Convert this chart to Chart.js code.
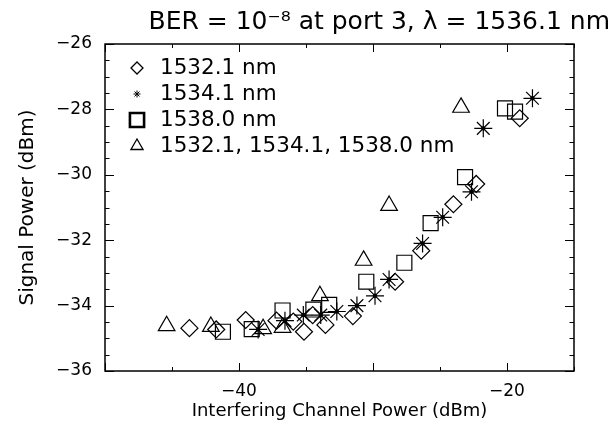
<!DOCTYPE html>
<html>
<head>
<meta charset="utf-8">
<script src="https://cdn.jsdelivr.net/npm/chart.js@4.4.1/dist/chart.umd.min.js"></script>
<style>
body{margin:0;background:#fff}
</style>
</head>
<body>
<canvas id="berChart" width="610" height="427"></canvas>
<script>
// values (dBm)
const diamondX=[-43.7,-41.7,-39.5,-37.2,-35.95,-35.15,-34.5,-33.55,-31.5,-28.35,-26.4,-24.0,-22.3,-19.05];
const diamondY=[-34.69,-34.73,-34.44,-34.46,-34.49,-34.8,-34.29,-34.59,-34.32,-33.27,-32.32,-30.9,-30.28,-28.27];

const starX=[-38.57,-36.57,-35.2,-33.9,-32.7,-31.2,-29.85,-28.8,-26.3,-24.8,-22.65,-21.77,-18.1];
const starY=[-34.73,-34.46,-34.29,-34.29,-34.18,-34.0,-33.7,-33.2,-32.1,-31.3,-30.52,-28.58,-27.66];

const squareX=[-41.2,-39.05,-36.75,-34.45,-33.27,-30.5,-27.66,-25.7,-23.13,-20.15,-19.4];
const squareY=[-34.8,-34.72,-34.15,-34.12,-33.98,-33.27,-32.69,-31.48,-30.07,-27.97,-28.07];

const triX=[-45.4,-42.1,-38.2,-36.75,-33.96,-30.7,-28.8,-23.43];
const triY=[-34.62,-34.64,-34.71,-34.67,-33.7,-32.62,-30.94,-27.94];

const seriesLabels=["1532.1 nm","1534.1 nm","1538.0 nm","1532.1, 1534.1, 1538.0 nm"];
const xLabelled=[-40,-20];
const yTickValues=[-36,-34,-32,-30,-28,-26];

const FONT="'DejaVu Sans', sans-serif";
const toPoints=(xs,ys)=>xs.map((x,i)=>({x:x,y:ys[i]}));
const minus=v=>(v<0?"\u2212":"")+Math.abs(v);

// box around the plot with inward ticks on all sides
const frameTicks={
    id:"frameTicks",
    afterDraw(chart){
        const {ctx,chartArea:a,scales:{x,y}}=chart;
        ctx.save();
        ctx.strokeStyle="#000";
        ctx.lineWidth=1.5;
        ctx.strokeRect(a.left,a.top,a.right-a.left,a.bottom-a.top);
        ctx.lineWidth=1;
        ctx.beginPath();
        for(let v=x.min;v<=x.max;v+=5){
            const px=Math.round(x.getPixelForValue(v))+0.5;
            const len=v%10===0?8:4;
            ctx.moveTo(px,a.bottom);ctx.lineTo(px,a.bottom-len);
            ctx.moveTo(px,a.top);ctx.lineTo(px,a.top+len);
        }
        for(let v=y.min;v<=y.max;v+=0.5){
            const py=Math.round(y.getPixelForValue(v))+0.5;
            const len=v%2===0?9:4.5;
            ctx.moveTo(a.left,py);ctx.lineTo(a.left+len,py);
            ctx.moveTo(a.right,py);ctx.lineTo(a.right-len,py);
        }
        ctx.stroke();
        ctx.restore();
    },
};

// legend drawn inside the plot, top left
const insideLegend={
    id:"insideLegend",
    afterDatasetsDraw(chart){
        const {ctx,chartArea:a}=chart;
        ctx.save();
        ctx.font="21.5px "+FONT;
        ctx.textBaseline="middle";
        let row=0;
        chart.data.datasets.forEach(ds=>{
            if(!ds.legend) return;
            const yy=a.top+24+row*26;
            ctx.strokeStyle="#000";
            ctx.fillStyle="rgba(0,0,0,0)";
            ctx.lineWidth=ds.legend.width;
            Chart.helpers.drawPoint(ctx,{pointStyle:ds.pointStyle,radius:ds.legend.radius,rotation:0,borderWidth:ds.legend.width},a.left+32,yy);
            ctx.fillStyle="#000";
            ctx.fillText(ds.label,a.left+55,yy);
            row++;
        });
        ctx.restore();
    },
};

const ctxBer=document.getElementById("berChart").getContext("2d");
const berChart=new Chart(ctxBer,{
    type: "scatter",
    data: {
        datasets: [{
            label: seriesLabels[0],
            data: toPoints(diamondX,diamondY),
            pointStyle: "rectRot",
            pointRadius: 8.5,
            borderColor: "#000",
            backgroundColor: "rgba(0,0,0,0)",
            borderWidth: 1.2,
            legend: {radius: 6, width: 1.3},
        },{
            label: seriesLabels[1],
            data: toPoints(starX,starY),
            pointStyle: "star",
            pointRadius: 9,
            borderColor: "#000",
            backgroundColor: "rgba(0,0,0,0)",
            borderWidth: 1.2,
            legend: {radius: 3.5, width: 1},
        },{
            label: "",
            data: toPoints(starX,starY),
            pointStyle: "circle",
            pointRadius: 2.2,
            borderWidth: 0,
            backgroundColor: "#000",
        },{
            label: seriesLabels[2],
            data: toPoints(squareX,squareY),
            pointStyle: "rect",
            pointRadius: 10.6,
            borderColor: "#000",
            backgroundColor: "rgba(0,0,0,0)",
            borderWidth: 1.2,
            legend: {radius: 10, width: 2.6},
        },{
            label: seriesLabels[3],
            data: toPoints(triX,triY),
            pointStyle: "triangle",
            pointRadius: 9.6,
            borderColor: "#000",
            backgroundColor: "rgba(0,0,0,0)",
            borderWidth: 1.2,
            legend: {radius: 7, width: 1.3},
        }],
    },
    options: {
        responsive: false,
        animation: false,
        devicePixelRatio: 1,
        layout: {padding: 0},
        plugins: {
            legend: {display: false},
            tooltip: {enabled: false},
            title: {
                display: true,
                text: "BER = 10\u207B\u2078 at port 3, \u03BB = 1536.1 nm",
                align: "end",
                color: "#000",
                font: {family: FONT, size: 25, weight: "normal"},
                padding: {top: 7, bottom: 7},
            },
        },
        scales: {
            x: {
                type: "linear",
                min: -50,
                max: -15,
                grid: {display: false, drawTicks: false},
                border: {display: false},
                ticks: {
                    stepSize: 5,
                    autoSkip: false,
                    maxRotation: 0,
                    padding: 10,
                    color: "#000",
                    font: {family: FONT, size: 17},
                    callback: function(value) {
                        return xLabelled.includes(value)?minus(value):"";
                    },
                },
                title: {
                    display: true,
                    text: "Interfering Channel Power (dBm)",
                    color: "#000",
                    font: {family: FONT, size: 18},
                    padding: {top: 0, bottom: 5},
                },
                afterFit: s=>{s.height=56;},
            },
            y: {
                type: "linear",
                min: -36,
                max: -26,
                grid: {display: false, drawTicks: false},
                border: {display: false},
                afterBuildTicks: s=>{s.ticks=yTickValues.map(v=>({value:v}));},
                ticks: {
                    padding: 13,
                    color: "#000",
                    font: {family: FONT, size: 17},
                    callback: function(value) {
                        return minus(value);
                    },
                },
                title: {
                    display: true,
                    text: "Signal Power (dBm)",
                    color: "#000",
                    font: {family: FONT, size: 20},
                    padding: {top: 16, bottom: 0},
                },
                afterFit: s=>{s.width=105;},
            },
            yRight: {
                type: "linear",
                position: "right",
                min: -36,
                max: -26,
                grid: {display: false, drawTicks: false},
                border: {display: false},
                ticks: {display: false},
                afterFit: s=>{s.width=36;},
            },
        },
    },
    plugins: [frameTicks,insideLegend],
});
</script>
</body>
</html>
